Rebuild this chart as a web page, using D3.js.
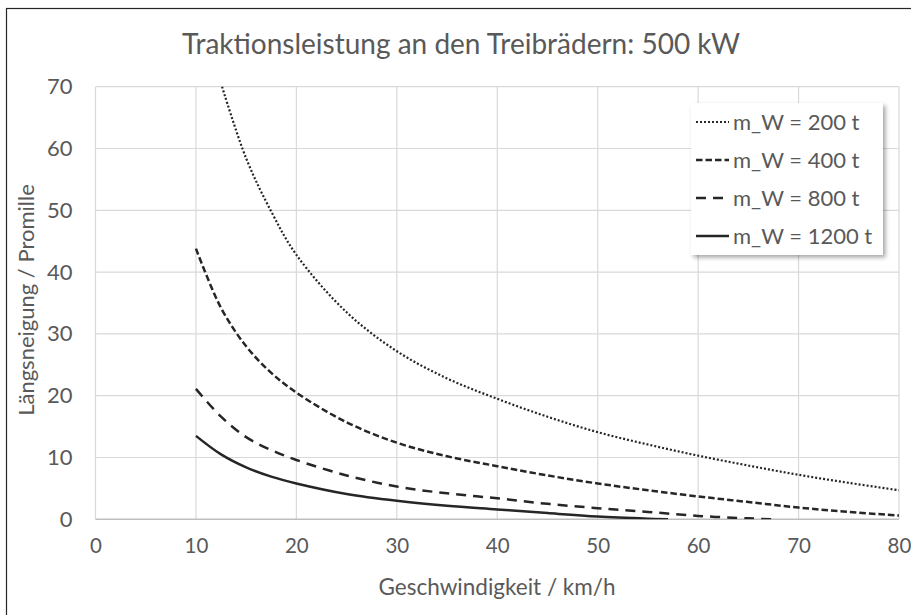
<!DOCTYPE html>
<html><head><meta charset="utf-8">
<script src="https://cdn.jsdelivr.net/npm/d3@7"></script>
<style>body{margin:0;background:#fff}text{font-family:Lato,"Open Sans",sans-serif;fill:#595959}</style>
</head><body><svg id="c" width="911" height="615"></svg>
<script>
const title = "Traktionsleistung an den Treibrädern: 500 kW";
const xTitle = "Geschwindigkeit / km/h";
const yTitle = "Längsneigung / Promille";
const xTicks = [0,10,20,30,40,50,60,70,80];
const yTicks = [0,10,20,30,40,50,60,70];
const seriesNames = ["m_W = 200 t","m_W = 400 t","m_W = 800 t","m_W = 1200 t"];
const speed200 = [12.6,15,17.5,20,25,30,35,40,45,50,55,60,65,70,75,80];
const slope200 = [70,58.4,49.8,42.8,33.5,27.2,22.8,19.5,16.6,14.1,12.1,10.3,8.7,7.2,5.9,4.7];
const speed400 = [10,12.5,15,17.5,20,25,30,35,40,45,50,55,60,65,70,75,80];
const slope400 = [43.8,34.2,28.0,23.7,20.5,15.7,12.4,10.2,8.6,7.1,5.8,4.7,3.7,2.8,1.9,1.2,0.6];
const speed800 = [10,12.5,15,17.5,20,25,30,35,40,45,50,55,60,65,67.5];
const slope800 = [21.1,16.6,13.3,11.2,9.6,7.1,5.3,4.2,3.4,2.5,1.8,1.2,0.55,0.15,0];
const speed1200 = [10,12.5,15,17.5,20,25,30,35,40,45,50,55,57];
const slope1200 = [13.5,10.5,8.4,6.9,5.8,4.1,3.0,2.2,1.6,1.0,0.45,0.1,0];

const svg = d3.select("#c");
const m = {l:95.5, r:899, t:86.7, b:519.3};
const x = d3.scaleLinear().domain([0,80]).range([m.l,m.r]);
const y = d3.scaleLinear().domain([0,70]).range([m.b,m.t]);

svg.append("rect").attr("x",6.5).attr("y",8.5).attr("width",910).attr("height",620)
  .attr("fill","none").attr("stroke","#262626").attr("stroke-width",1.2);

const defs = svg.append("defs");
defs.append("clipPath").attr("id","plot").append("rect")
  .attr("x",m.l).attr("y",m.t-2).attr("width",m.r-m.l).attr("height",m.b-m.t+2);
const f = defs.append("filter").attr("id","sh").attr("x","-10%").attr("y","-10%").attr("width","130%").attr("height","130%");
f.append("feDropShadow").attr("dx",2.5).attr("dy",2.5).attr("stdDeviation",2).attr("flood-color","#000").attr("flood-opacity",0.35);

const g = svg.append("g");
g.selectAll(".hg").data(yTicks.filter(d=>d>0)).join("line")
  .attr("x1",m.l).attr("x2",m.r).attr("y1",d=>y(d)).attr("y2",d=>y(d))
  .attr("stroke","#d9d9d9").attr("stroke-width",1.2);
g.selectAll(".vg").data(xTicks).join("line")
  .attr("x1",d=>x(d)).attr("x2",d=>x(d)).attr("y1",m.t).attr("y2",m.b)
  .attr("stroke","#d9d9d9").attr("stroke-width",1.2);
g.append("line").attr("x1",m.l).attr("x2",m.r).attr("y1",m.b).attr("y2",m.b)
  .attr("stroke","#bfbfbf").attr("stroke-width",1.5);

const xa = svg.append("g").attr("transform",`translate(0,${m.b})`)
  .call(d3.axisBottom(x).tickValues(xTicks).tickSize(0).tickPadding(19));
xa.select(".domain").remove();
xa.selectAll("text").attr("font-size",20.5).attr("font-family","Lato").attr("fill","#595959");
const ya = svg.append("g").attr("transform",`translate(${m.l},0)`)
  .call(d3.axisLeft(y).tickValues(yTicks).tickSize(0).tickPadding(23));
ya.select(".domain").remove();
ya.selectAll("text").attr("font-size",22).attr("font-family","Lato").attr("fill","#595959");

svg.append("text").attr("x",461).attr("y",54).attr("text-anchor","middle").attr("font-size",28).text(title);
svg.append("text").attr("x",497).attr("y",595).attr("text-anchor","middle").attr("font-size",22.5).text(xTitle);
svg.append("text").attr("transform","translate(34,300) rotate(-90)").attr("text-anchor","middle").attr("font-size",22).text(yTitle);

const series = [
  {name:seriesNames[0], xs:speed200, ys:slope200, dash:"2,2", w:2.2},
  {name:seriesNames[1], xs:speed400, ys:slope400, dash:"6.5,3", w:2.5},
  {name:seriesNames[2], xs:speed800, ys:slope800, dash:"10,7", w:2.5},
  {name:seriesNames[3], xs:speed1200, ys:slope1200, dash:null, w:2.5}
];
const line = d3.line().x(d=>x(d[0])).y(d=>y(d[1])).curve(d3.curveCatmullRom.alpha(0.5));
const pg = svg.append("g").attr("clip-path","url(#plot)");
series.forEach(s=>{
  pg.append("path").datum(s.xs.map((v,i)=>[v,s.ys[i]]))
    .attr("d",line).attr("fill","none").attr("stroke","#262626")
    .attr("stroke-width",s.w).attr("stroke-dasharray",s.dash);
});

const lg = svg.append("g");
lg.append("rect").attr("x",691).attr("y",103).attr("width",192).attr("height",152)
  .attr("fill","#fff").attr("filter","url(#sh)");
const ly = [122,160,198,236];
series.forEach((s,i)=>{
  lg.append("line").attr("x1",696).attr("x2",729).attr("y1",ly[i]).attr("y2",ly[i])
    .attr("stroke","#262626").attr("stroke-width",s.w).attr("stroke-dasharray",s.dash);
  lg.append("text").attr("x",733).attr("y",ly[i]).attr("dy","0.35em").attr("font-size",22).text(s.name);
});
</script></body></html>
